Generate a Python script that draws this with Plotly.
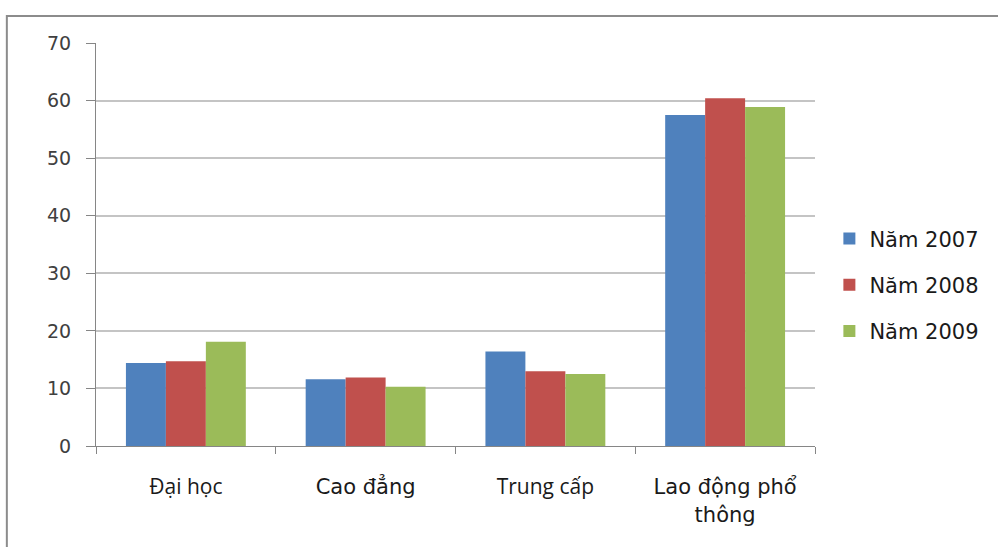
import plotly.graph_objects as go

# Labour structure by training level, three years
categories = ["Đại học", "Cao đẳng", "Trung cấp", "Lao động phổ thông"]
tick_labels = [
    "<span style='font-family:Open Sans;font-size:21px'>Đại học</span>",
    "Cao đẳng",
    "<span style='font-family:Open Sans;font-size:21px'>Trung cấp</span>",
    "Lao động phổ<br>thông",
]
series_names = ["Năm 2007", "Năm 2008", "Năm 2009"]
values_2007 = [14.4, 11.6, 16.4, 57.5]
values_2008 = [14.7, 11.9, 13.0, 60.4]
values_2009 = [18.1, 10.3, 12.5, 58.9]
series_values = [values_2007, values_2008, values_2009]
y_ticks = [0, 10, 20, 30, 40, 50, 60, 70]

colors = ["#4F81BD", "#C0504D", "#9BBB59"]

fig = go.Figure()
for name, vals, col in zip(series_names, series_values, colors):
    fig.add_trace(go.Bar(
        x=categories, y=vals, name=name, legendgroup=name,
        marker=dict(color=col, line=dict(width=0)),
        hoverinfo="skip",
    ))

fig.update_layout(
    width=998, height=547,
    margin=dict(l=96, r=183, t=43, b=101),
    paper_bgcolor="white", plot_bgcolor="white",
    barmode="group", bargap=0.333, bargroupgap=0,
    showlegend=True,
    legend=dict(
        x=1.02, y=0.40, xanchor="left", yanchor="middle",
        font=dict(family="DejaVu Sans", size=21, color="#1a1a1a"),
        tracegroupgap=16, bgcolor="rgba(0,0,0,0)",
        itemclick=False, itemdoubleclick=False,
    ),
    font=dict(family="DejaVu Sans", color="#404040"),
    xaxis=dict(
        type="category",
        tickmode="array", tickvals=categories, ticktext=tick_labels,
        tickson="boundaries", ticks="outside", ticklen=7, tickcolor="#868686",
        showline=True, linecolor="#868686", linewidth=1,
        showgrid=False, zeroline=False,
        tickfont=dict(family="DejaVu Sans", size=21, color="#1a1a1a"),
        ticklabelstandoff=22,
    ),
    yaxis=dict(
        range=[0, 70], tickmode="array", tickvals=y_ticks,
        ticks="outside", ticklen=9, tickcolor="#868686",
        showline=True, linecolor="#868686", linewidth=1,
        showgrid=True, gridcolor="#c4c4c4", gridwidth=1.5,
        zeroline=False,
        tickfont=dict(family="DejaVu Sans", size=19, color="#404040"),
        ticklabelstandoff=11,
    ),
    shapes=[dict(
        type="rect", xref="paper", yref="paper",
        x0=-0.124, x1=1.5, y0=-0.5, y1=1.067,
        line=dict(color="#8c8c8c", width=2), fillcolor="rgba(0,0,0,0)",
        layer="below",
    )],
)

fig.write_html("out.html")
